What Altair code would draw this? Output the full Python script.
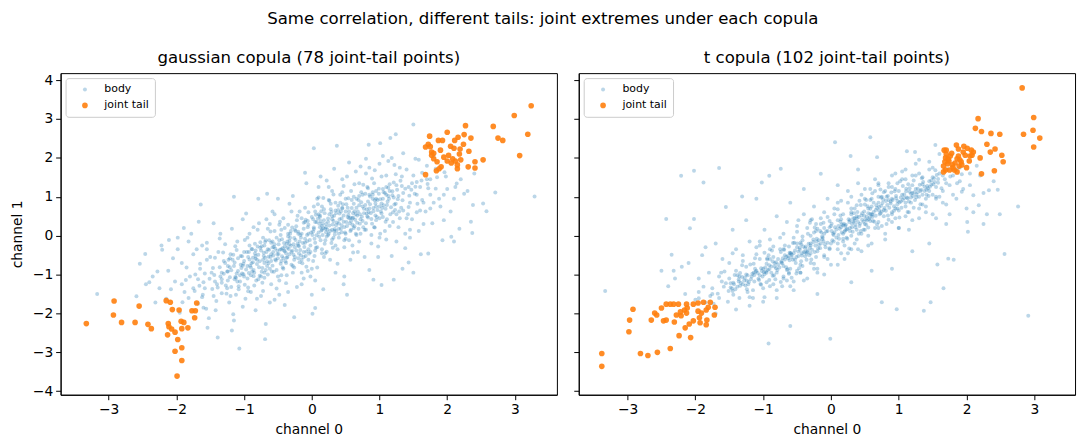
import altair as alt
import pandas as pd

# joint-tail points (channel 0, channel 1)
gauss_tail = [
    (-3.33, -2.26), (-2.92, -1.68), (-2.93, -2.04), (-2.81, -2.23), (-2.55, -1.81),
    (-2.61, -2.23), (-2.42, -2.28), (-2.37, -2.39), (-2.15, -1.67), (-2.09, -1.71),
    (-2.06, -1.90), (-1.96, -1.91), (-2.12, -2.26), (-2.11, -2.34), (-2.07, -2.40),
    (-2.02, -2.48), (-2.13, -2.55), (-1.93, -2.20), (-1.89, -2.23), (-1.92, -2.39),
    (-1.83, -2.37), (-1.98, -2.67), (-1.92, -2.88), (-2.02, -2.97), (-1.92, -3.21),
    (-1.99, -3.61), (-1.77, -1.93), (-1.72, -1.93), (-1.70, -1.73), (-1.73, -2.11),
    (3.24, 3.34), (2.99, 3.09), (3.19, 2.61), (3.07, 2.06), (2.68, 2.81),
    (2.75, 2.51), (2.82, 2.45), (2.27, 2.83), (2.00, 2.66), (1.74, 2.56),
    (1.87, 2.45), (1.93, 2.45), (2.11, 2.45), (2.16, 2.53), (2.35, 2.51),
    (1.72, 2.35), (1.68, 2.28), (1.75, 2.29), (2.24, 2.35), (2.10, 2.25),
    (2.19, 2.23), (2.32, 2.17), (1.77, 2.15), (1.80, 2.12), (1.77, 2.07),
    (2.02, 2.07), (2.18, 2.10), (2.53, 1.95), (2.41, 1.90), (1.85, 1.90),
    (2.00, 1.92), (2.06, 1.87), (2.12, 1.92), (2.15, 1.82), (2.31, 1.77),
    (2.41, 1.74), (1.91, 1.77), (1.88, 1.72), (1.84, 1.67), (2.15, 1.72),
    (1.68, 1.57), (1.95, 2.02), (2.05, 2.30), (1.80, 1.98), (2.20, 1.95),
    (2.25, 2.60), (1.90, 2.20), (2.08, 1.98),
]

t_tail = [
    (-3.38, -3.03), (-3.38, -3.36), (-2.98, -2.47), (-2.97, -2.17), (-2.92, -1.89),
    (-2.81, -3.03), (-2.70, -3.08), (-2.56, -3.00), (-2.37, -2.90), (-2.24, -2.57),
    (-2.07, -2.62), (-2.65, -2.17), (-2.60, -1.99), (-2.57, -2.04), (-2.50, -1.86),
    (-2.47, -2.19), (-2.43, -2.17), (-2.31, -2.22), (-2.43, -1.76), (-2.37, -1.76),
    (-2.32, -1.76), (-2.25, -1.76), (-2.13, -1.76), (-2.03, -1.76), (-1.96, -1.73),
    (-1.88, -1.71), (-1.78, -1.71), (-1.71, -1.84), (-1.72, -2.04), (-2.28, -2.04),
    (-2.22, -1.96), (-2.16, -1.91), (-2.12, -1.86), (-2.13, -1.99), (-2.21, -2.06),
    (-1.96, -1.94), (-1.91, -1.99), (-1.84, -1.91), (-1.81, -1.84), (-1.94, -2.11),
    (-2.03, -2.19), (-2.09, -2.27), (-2.15, -2.37), (-1.93, -2.24), (-1.83, -2.17),
    (-1.84, -2.29),
    (2.82, 3.80), (2.17, 3.01), (2.13, 2.76), (2.22, 2.68), (2.36, 2.63),
    (2.49, 2.61), (2.99, 3.04), (2.98, 2.71), (2.84, 2.61), (3.08, 2.51),
    (2.99, 2.28), (2.30, 2.35), (2.42, 2.23), (2.35, 2.15), (2.52, 2.07),
    (2.54, 1.90), (2.20, 2.00), (2.41, 1.67), (2.22, 1.59), (1.85, 2.33),
    (1.67, 2.20), (1.70, 2.20), (1.88, 2.23), (2.01, 2.25), (2.07, 2.20),
    (2.08, 2.07), (1.98, 2.07), (1.88, 2.05), (1.76, 2.05), (1.69, 2.00),
    (1.73, 1.97), (2.04, 1.92), (1.92, 1.90), (1.83, 1.87), (1.66, 1.79),
    (1.79, 1.82), (1.89, 1.79), (1.93, 1.82), (1.69, 1.69), (1.75, 1.69),
    (1.82, 1.69), (1.86, 1.64), (1.66, 1.64), (1.72, 1.85), (1.95, 2.15),
    (1.78, 2.12), (2.00, 1.75), (1.90, 1.95), (1.68, 1.90), (2.10, 2.15),
    (1.80, 1.75), (1.96, 2.30), (1.74, 1.92), (2.05, 2.05), (1.86, 1.98),
    (1.70, 2.10),
]

# body points: a hand-read sample of the cloud
gauss_body = [
    (1.50, 2.86), (1.24, 2.61), (1.16, 2.51), (1.01, 2.38), (0.84, 2.34), (0.37, 2.31),
    (0.03, 2.25), (3.29, 1.01), (2.71, 1.11), (2.58, 0.63), (2.53, 0.83), (2.38, 0.79),
    (2.37, 0.07), (2.35, 0.36), (2.10, -0.15), (2.06, -0.03), (1.72, -0.46), (1.61, -0.48),
    (1.50, -0.95), (1.43, -0.69), (1.34, -0.85), (1.21, -1.13), (1.03, -1.27), (0.91, -1.13),
    (0.52, -1.52), (0.47, -1.25), (0.05, -1.86), (0.01, -2.01), (-0.26, -2.10), (-0.69, -2.66),
    (-0.68, -2.27), (-1.07, -2.90), (-1.18, -2.44), (-1.39, -2.62), (-1.54, -2.37), (-3.17, -1.50),
    (-2.59, -1.56), (-2.54, -0.72), (-2.46, -0.47), (-2.40, -1.20), (-2.21, -0.36), (-2.11, -0.11),
    (-1.89, 0.20), (-1.64, 0.80), (-1.15, 1.00), (-0.79, 0.95), (-0.66, 1.08), (-1.67, 0.36),
    (-1.98, -0.05),
    (0.02, 0.11), (-0.15, 0.05), (0.21, 0.30), (-0.33, -0.22), (0.40, 0.18), (-0.08, -0.41),
    (0.12, 0.52), (0.30, -0.10), (-0.45, 0.15), (0.55, 0.62), (-0.60, -0.48), (0.05, -0.18),
    (-0.22, 0.40), (0.35, 0.85), (-0.38, -0.70), (0.62, 0.20), (-0.10, 0.72), (0.18, -0.55),
    (-0.52, -0.05), (0.48, -0.30), (0.08, 0.95), (-0.28, -0.95), (0.66, 0.95), (-0.68, -0.88),
    (0.25, 0.05), (-0.05, 0.28), (0.15, -0.35), (-0.40, -0.40), (0.44, 0.44), (-0.18, -0.15),
    (0.02, -0.65), (0.58, 1.15), (-0.62, 0.30), (0.70, -0.15), (-0.30, 0.62), (0.10, 1.25),
    (-0.12, -1.10), (0.38, -0.72), (-0.55, 0.55), (0.28, 0.68), (-0.20, -0.58), (0.50, 0.05),
    (-0.48, -1.15), (0.00, 0.48), (0.22, -0.02), (-0.35, 0.05), (0.32, 0.38), (-0.70, -0.25),
    (0.65, 0.55), (-0.08, -0.80),
    (0.85, 0.70), (1.05, 0.95), (0.92, 1.35), (1.20, 0.60), (1.35, 1.10), (0.78, 0.15),
    (1.10, 1.55), (1.45, 0.85), (0.95, 0.40), (1.25, 1.30), (0.80, 1.60), (1.40, 1.70),
    (1.15, 0.25), (0.88, -0.20), (1.30, 0.45), (1.00, 1.85), (1.48, 1.35), (0.75, 1.05),
    (1.18, 2.00), (1.38, 0.05), (0.98, -0.55), (1.22, 0.80), (0.82, 0.50), (1.05, 1.20),
    (1.42, 0.55),
    (-0.87, -0.68), (-1.03, -0.97), (-0.94, -1.33), (-1.21, -0.58), (-1.33, -1.12), (-0.76, -0.17),
    (-1.12, -1.52), (-1.46, -0.83), (-0.93, -0.42), (-1.27, -1.28), (-0.81, -1.62), (-1.41, -1.68),
    (-1.13, -0.27), (-0.86, 0.22), (-1.31, -0.43), (-1.02, -1.83), (-1.47, -1.37), (-0.77, -1.03),
    (-1.16, -2.02), (-1.36, -0.07), (-0.97, 0.57), (-1.24, -0.78), (-0.83, -0.52), (-1.06, -1.18),
    (-1.43, -0.57),
    (1.60, 1.25), (1.75, 1.05), (1.85, 1.50), (1.55, 0.60), (2.00, 1.20), (1.70, 1.80),
    (1.90, 0.75), (2.20, 1.45), (1.65, 0.30), (2.10, 0.95), (1.80, 2.05), (2.30, 1.15),
    (1.58, 1.95), (2.40, 1.60), (1.95, 0.40),
    (-1.60, -1.20), (-1.72, -1.00), (-1.88, -1.45), (-1.55, -0.62), (-2.02, -1.18), (-1.68, -1.75),
    (-1.92, -0.70), (-2.25, -1.35), (-1.62, -0.25), (-2.12, -0.90), (-1.82, -1.60), (-2.35, -1.05),
    (-1.56, -1.88), (-2.45, -1.25), (-1.98, -0.35),
    (0.12, 0.22), (-0.25, -0.30), (0.33, 0.12), (-0.12, 0.18), (0.45, 0.70), (-0.42, -0.58),
    (0.18, 0.40), (-0.32, -0.05), (0.58, 0.38), (-0.58, -0.30), (0.08, -0.30), (-0.05, 0.60),
    (0.26, 0.90), (-0.26, -0.82), (0.70, 0.78), (-0.72, -0.62), (0.40, -0.05), (-0.15, -0.62),
    (0.52, 0.25), (-0.48, 0.28), (0.05, 0.35), (-0.20, 0.10), (0.15, 0.75), (-0.38, -0.45),
    (0.62, 1.00), (-0.65, -1.00), (0.30, 0.50), (-0.02, -0.25), (0.20, 0.18), (-0.10, -0.08),
    (0.85, 1.05), (-0.88, -0.92), (1.02, 0.62), (-1.00, -0.65), (0.72, 0.42), (-0.75, -0.38),
    (1.12, 0.88), (-1.15, -0.78), (0.95, 0.75), (-0.95, -1.10), (1.28, 1.02), (-1.30, -0.98),
    (0.68, 0.62), (-0.70, -0.70), (1.08, 1.10), (-1.08, -1.30), (0.90, 0.95), (-0.90, -0.82),
    (1.32, 0.72), (-1.28, -0.70),
    (0.07, 0.35), (-0.31, 0.12), (0.44, 0.09), (-0.17, -0.37), (0.61, 0.47), (-0.54, -0.61),
    (0.29, 0.61), (0.13, -0.12), (-0.41, -0.19), (0.77, 0.58), (-0.63, -0.12), (0.36, 0.27),
    (-0.09, 0.41), (0.51, 0.81), (-0.27, -0.49), (0.19, -0.21), (-0.71, -0.44), (0.94, 0.52),
    (-0.46, 0.02), (0.03, 0.17), (0.24, 0.44), (-0.19, -0.27), (0.67, 0.33), (-0.36, -0.31),
    (0.14, 0.63), (-0.58, -0.77), (0.83, 0.88), (-0.04, -0.46), (0.41, 0.57), (-0.23, 0.24),
    (0.57, 0.12), (-0.83, -0.59), (0.09, 0.81), (-0.14, -0.71), (0.73, 1.12), (-0.51, -0.39),
    (0.31, -0.31), (-0.66, -0.66), (1.06, 0.78), (-0.97, -0.87), (0.47, 0.36), (-0.33, -0.13),
    (0.21, 0.09), (-0.07, 0.02), (0.88, 0.43), (-0.78, -0.81), (0.16, 0.31), (-0.44, -0.53),
    (0.59, 0.71), (-0.12, 0.33), (1.17, 0.73), (-1.09, -0.91), (0.99, 1.08), (-0.86, -1.04),
    (1.27, 0.94), (-1.21, -1.07), (0.79, 0.79), (-0.92, -0.61), (1.13, 1.23), (-1.02, -0.77),
    (1.34, 0.91), (-1.24, -1.15), (0.91, 0.63), (-0.74, -0.93), (1.21, 1.37), (-1.17, -0.62),
    (0.69, 0.92), (-0.81, -0.73), (1.38, 1.21), (-1.33, -1.21), (0.34, 0.17), (-0.29, -0.39),
    (0.53, 0.48), (-0.49, -0.47), (0.11, -0.03), (-0.01, 0.08), (0.26, 0.26), (-0.24, -0.11),
    (0.43, 0.62), (-0.37, -0.57), (0.63, 0.63), (-0.57, -0.42), (0.06, 0.54), (-0.16, -0.51),
    (0.71, 0.31), (-0.64, -0.54), (0.39, 0.77), (-0.43, -0.82), (0.86, 0.81), (-0.89, -0.71),
    (1.03, 0.83), (-1.01, -0.99), (1.19, 1.04), (-1.14, -1.12), (0.97, 0.92), (-0.79, -0.49),
    (1.09, 0.69), (-1.19, -0.89), (0.81, 0.68), (-0.69, -0.57), (1.52, 1.08), (-1.51, -1.11),
    (1.63, 0.92), (-1.58, -0.97), (1.47, 1.18), (-1.66, -1.29), (1.71, 1.33), (-1.44, -1.01),
    (1.56, 0.82), (-1.73, -1.42), (0.22, -0.41), (-0.21, 0.51), (0.48, -0.12), (-0.47, 0.36),
    (0.66, 0.02), (-0.61, 0.11), (0.04, -0.52), (0.17, 0.97), (-0.06, -0.91), (0.54, 0.96),
    (-0.56, -0.93), (0.93, 0.21), (-0.84, -0.21), (1.11, 0.42), (-1.11, -0.37), (0.76, 1.31),
    (-0.73, -1.21), (1.24, 1.58), (-1.26, -1.49), (0.89, 1.47), (-0.94, -1.43), (1.44, 1.03),
    (-1.36, -0.81), (1.31, 1.41), (-1.39, -1.33), (0.61, -0.43), (-0.67, 0.42), (0.32, 1.06),
    (-0.37, -1.02), (1.01, 0.05), (-0.99, -0.11), (0.47, 1.28), (-0.52, -1.36), (1.62, 1.42),
    (-1.61, -1.52), (1.83, 1.21), (-1.86, -1.14), (1.96, 1.63), (-1.91, -1.71), (2.14, 1.34),
    (-2.28, -0.92), (-2.15, -1.62), (-2.05, -0.58), (-1.95, -1.98), (-1.85, -0.82), (-2.22, -0.25),
    (-1.92, -1.25), (-1.82, -0.15), (-2.31, -1.72), (-2.08, -1.38), (-1.75, -0.48), (-1.68, -1.12),
    (-1.62, -1.58), (-1.55, -0.18), (-1.48, -0.95), (-1.42, -1.92), (-1.38, -0.42), (-1.33, -1.48),
    (-1.78, 0.05), (-1.52, -2.12), (-1.45, 0.32), (-1.65, -0.72), (-1.35, -1.05), (-1.58, -1.35),
    (-1.28, -0.22), (-1.22, -1.72), (-1.18, 0.18), (-1.12, -1.08), (-1.05, -0.52), (-0.98, -1.62),
    (-0.92, 0.05), (-0.85, -1.28), (-1.25, -0.92), (-1.15, -2.18), (-1.02, 0.42), (-0.88, -0.35),
    (-0.83, -1.92), (-1.08, -1.38), (-0.95, -0.78), (-1.20, -0.48), (-0.78, 0.32), (-0.72, -1.42),
    (-0.68, -0.12), (-0.62, -1.72), (-0.58, 0.62), (-0.52, -0.88), (-0.48, -1.52), (-0.42, 0.45),
    (-0.38, -1.22), (-0.33, 0.82), (-0.75, -1.05), (-0.65, 0.18), (-0.55, -0.22), (-0.45, -0.65),
    (-0.35, -0.02), (-0.60, -1.25), (-0.40, -1.78), (-0.50, 0.95), (-0.28, 1.02), (-0.22, -1.32),
    (-0.18, 0.62), (-0.12, -0.55), (-0.08, 1.35), (-0.02, -1.05), (0.03, 0.75), (0.08, -0.82),
    (0.13, 1.52), (0.17, -1.38), (-0.25, 0.15), (-0.15, -0.95), (-0.05, 0.05), (0.05, -0.38),
    (0.15, 0.25), (-0.10, 1.62), (0.00, -1.52), (0.10, 0.98), (0.22, 1.42), (0.27, -0.62),
    (0.33, 1.72), (0.38, -0.35), (0.42, 1.05), (0.48, -1.05), (0.52, 1.52), (0.57, -0.62),
    (0.63, 1.32), (0.68, -0.42), (0.25, 0.92), (0.35, -0.95), (0.45, 0.72), (0.55, 1.88),
    (0.65, 0.05), (0.30, 0.15), (0.50, -0.08), (0.60, 0.45), (0.72, 1.78), (0.78, -0.55),
    (0.83, 1.22), (0.88, 0.02), (0.93, 1.68), (0.98, -0.28), (1.03, 1.52), (1.08, 0.12),
    (1.13, 1.92), (1.18, -0.52), (0.75, 0.38), (0.85, -0.88), (0.95, 1.15), (1.05, 0.48),
    (1.15, 1.32), (0.80, 1.98), (1.00, 0.75), (1.10, -0.10), (1.22, 1.82), (1.28, 0.22),
    (1.33, 1.52), (1.38, -0.32), (1.43, 1.25), (1.48, 0.42), (1.53, 1.98), (1.58, 0.12),
    (1.63, 1.62), (1.68, 0.62), (1.25, 0.55), (1.35, 2.12), (1.45, -0.05), (1.55, 1.38),
    (1.65, 0.85), (1.72, 1.22), (1.78, 0.32), (1.83, 1.72), (1.88, 0.95), (1.93, -0.12),
    (1.98, 1.52), (2.05, 0.62), (2.12, 1.25), (2.18, 0.18), (2.25, 1.08), (1.75, 0.70),
    (1.95, 1.05),
    (0.05, 0.62), (-0.05, -0.62), (0.15, -0.45), (-0.15, 0.45), (0.28, 0.82), (-0.28, -0.78),
    (0.35, -0.25), (-0.35, 0.28), (0.45, 1.12), (-0.45, -1.02), (0.55, -0.12), (-0.55, 0.12),
    (0.62, 0.82), (-0.62, -0.85), (0.72, 0.05), (-0.72, -0.05), (0.82, 1.25), (-0.82, -1.15),
    (0.92, 0.22), (-0.92, -0.25), (0.10, 0.08), (0.20, -0.12), (0.30, 0.42), (0.40, 0.32),
    (0.50, 0.62), (-0.10, -0.18), (-0.20, 0.05), (-0.30, -0.42), (-0.40, -0.28), (-0.50, -0.58),
    (0.12, 0.48), (0.24, 0.02), (0.36, 0.58), (0.48, 0.22), (-0.12, -0.42), (-0.24, 0.12),
    (-0.36, -0.55), (-0.48, -0.12), (0.60, 0.28), (-0.60, -0.18), (0.70, 1.02), (-0.70, -1.08),
    (0.80, 0.32), (-0.80, -0.28), (0.90, 1.12), (-0.90, -1.02), (1.00, 0.45), (-1.00, -0.42),
    (1.10, 1.05), (-1.10, -1.18), (0.02, 0.42), (-0.02, -0.42), (0.18, 0.68), (-0.18, -0.68),
    (0.32, -0.05), (-0.32, 0.05), (0.42, 0.85), (-0.42, -0.85), (0.58, 0.15), (-0.58, -0.15),
    (-1.80, -1.05), (-1.70, -0.35), (-1.60, -1.85), (-1.50, -0.55), (-1.40, -1.25), (-1.30, -0.65),
    (-1.20, -1.55), (-1.10, -0.15), (-1.00, -1.05), (-0.90, -1.45), (-0.80, 0.15), (-0.70, -0.95),
    (-0.60, -0.65), (-0.50, -1.05), (-0.40, 0.20), (-0.30, -0.75), (-0.20, -0.25), (-0.10, 0.35),
    (0.00, -0.85), (0.10, 0.55), (0.20, -0.45), (0.30, 1.15), (0.40, 0.05), (0.50, 0.95),
    (0.60, -0.25), (0.70, 1.35), (0.80, 0.15), (0.90, 1.05), (1.00, -0.05), (1.10, 1.25),
    (1.20, 0.35), (1.30, 1.75), (1.40, 0.45), (1.50, 1.55), (1.60, 0.65), (1.70, 1.45),
    (1.80, 0.85), (-1.75, -1.35), (-1.65, -0.85), (-1.45, -1.55), (-1.25, -1.35), (-1.05, -0.75),
    (-0.85, -0.95), (-0.65, -0.35), (-0.45, -0.35), (-0.25, -0.55), (-0.05, -0.35), (0.15, 0.15),
    (0.35, 0.65), (0.55, 0.45), (0.75, 0.75), (0.95, 0.95), (1.15, 1.15), (1.35, 0.65),
    (1.55, 1.05), (1.75, 1.45), (-0.95, -0.05), (-0.75, -1.55), (-0.55, -1.65), (-0.35, -1.45),
    (-0.15, -1.25), (0.05, -1.15), (0.25, 1.25), (0.45, 1.45), (0.65, 1.65), (0.85, 1.75),
    (1.05, 2.05), (1.25, -0.15), (1.45, 0.15), (-1.35, 0.05), (-1.55, -0.35),
]

# the dense middle of the gaussian cloud
gauss_core = [
    (0.04, -0.08), (0.14, 0.13), (-0.06, 0.22), (0.24, 0.36), (-0.26, -0.06), (0.34, 0.03),
    (-0.34, -0.34), (0.44, 0.27), (-0.44, -0.09), (0.54, 0.53), (-0.54, -0.33), (0.64, 0.41),
    (-0.64, -0.71), (0.74, 0.49), (-0.74, -0.27), (0.84, 0.61), (-0.84, -0.46), (0.94, 0.83),
    (-0.94, -0.55), (1.04, 0.71), (-1.04, -0.83), (1.14, 0.95), (-1.14, -0.69), (1.24, 0.82),
    (-1.24, -0.92), (0.09, 0.44), (-0.09, -0.52), (0.19, 0.58), (-0.19, -0.46), (0.29, -0.19),
    (-0.29, 0.21), (0.39, 0.66), (-0.39, -0.66), (0.49, 0.08), (-0.49, -0.22), (0.59, 0.92),
    (-0.59, -0.92), (0.69, 0.18), (-0.69, -0.16), (0.79, 1.08), (-0.79, -1.12), (0.89, 0.31),
    (-0.89, -0.34), (0.99, 1.21), (-0.99, -1.26), (1.09, 0.36), (-1.09, -0.58), (1.19, 1.14),
    (-1.19, -1.32), (1.29, 0.62), (0.01, 0.02), (0.11, 0.31), (-0.11, -0.29), (0.21, 0.22),
    (-0.21, -0.21), (0.31, 0.29), (-0.31, -0.26), (0.41, 0.42), (-0.41, -0.38), (0.51, 0.35),
    (-0.51, -0.48), (0.61, 0.58), (-0.61, -0.55), (0.71, 0.55), (-0.71, -0.52), (0.81, 0.57),
    (-0.81, -0.62), (0.91, 0.71), (-0.91, -0.77), (1.01, 0.94), (-1.01, -0.72), (1.11, 0.79),
    (-1.11, -0.97), (1.21, 0.98), (-1.21, -0.81), (0.06, -0.31), (-0.06, 0.38), (0.16, 0.02),
    (-0.16, -0.05), (0.26, 0.55), (-0.26, -0.62), (0.36, 0.12), (-0.36, -0.15), (0.46, 0.81),
    (-0.46, -0.72), (0.56, 0.32), (-0.56, -0.29), (0.66, 0.72), (-0.66, -0.78), (0.76, 0.22),
    (-0.76, -0.31), (0.86, 1.01), (-0.86, -0.88), (0.96, 0.48), (-0.96, -0.42), (1.06, 1.12),
    (-1.06, -1.02), (1.16, 0.55), (-1.16, -0.49), (1.26, 1.18), (0.03, 0.21), (0.13, 0.38),
    (-0.13, -0.19), (0.23, 0.15), (-0.23, -0.38), (0.33, 0.51), (-0.33, -0.48), (0.43, 0.18),
    (-0.43, -0.32), (0.53, 0.72), (-0.53, -0.64), (0.63, 0.24), (-0.63, -0.36), (0.73, 0.86),
    (-0.73, -0.83), (0.83, 0.47), (-0.83, -0.38), (0.93, 0.91), (-0.93, -0.96), (1.03, 0.57),
    (-1.03, -0.53), (1.13, 1.02), (-1.13, -1.06), (1.23, 0.66), (-1.23, -0.62), (1.33, 1.28),
    (-1.33, -0.95), (1.43, 0.74), (-1.43, -1.18), (1.53, 1.26), (-0.03, -0.11), (0.07, 0.01),
    (-0.07, -0.14), (0.17, 0.19), (-0.17, 0.02), (0.27, 0.12), (-0.27, -0.22), (0.37, 0.34),
    (-0.37, -0.21), (0.47, 0.52), (-0.47, -0.36), (0.57, 0.46), (-0.57, -0.51), (0.67, 0.52),
    (-0.67, -0.42), (0.77, 0.69), (-0.77, -0.66), (0.87, 0.58), (-0.87, -0.57), (0.97, 0.66),
]

t_body = [
    (-3.33, -1.42), (-2.21, 1.54), (-2.02, 1.67), (-1.88, 1.37), (-1.65, 1.74), (-2.43, 0.43),
    (-2.02, 0.43), (-2.08, 0.19), (-2.35, -0.49), (-2.32, -0.90), (-0.92, -2.77), (-0.01, -2.65),
    (-0.60, -2.32), (2.91, -2.06), (2.56, -0.47), (2.76, 0.75), (2.49, 0.55), (2.25, 0.30),
    (2.46, 1.18), (1.66, -1.35), (1.47, -1.71), (1.37, -1.93), (0.97, -1.89), (0.75, -1.71),
    (0.58, 2.53), (0.06, 2.40), (0.29, 2.05), (0.68, 2.02), (-0.15, 1.59), (-0.74, 1.72),
    (-1.02, 1.37), (-0.91, 1.54), (-1.31, 1.01), (-1.55, 0.74), (1.57, -0.74), (1.73, -0.59),
    (1.81, -0.62), (2.02, 0.10), (2.01, 0.35), (2.18, 0.78), (1.93, 1.13), (2.10, 1.04),
    (2.33, 1.17), (1.54, 2.33), (1.12, 2.17), (1.24, 2.15),
    (0.05, 0.08), (-0.12, -0.05), (0.22, 0.28), (-0.30, -0.25), (0.40, 0.35), (-0.08, -0.30),
    (0.15, 0.42), (0.32, 0.10), (-0.42, -0.12), (0.55, 0.58), (-0.58, -0.55), (0.02, -0.12),
    (-0.20, 0.18), (0.35, 0.70), (-0.36, -0.62), (0.62, 0.38), (-0.05, 0.48), (0.20, -0.25),
    (-0.50, -0.30), (0.48, 0.15), (0.10, 0.68), (-0.25, -0.72), (0.70, 0.85), (-0.70, -0.78),
    (0.28, 0.20), (-0.02, 0.22), (0.12, -0.08), (-0.40, -0.42), (0.45, 0.52), (-0.15, -0.20),
    (0.75, 0.62), (-0.78, -0.60), (0.85, 0.92), (-0.88, -0.95), (0.95, 0.70), (-0.95, -0.72),
    (1.05, 1.05), (-1.05, -1.02), (0.80, 1.15), (-0.82, -1.12), (1.15, 0.88), (-1.12, -0.85),
    (1.25, 1.20), (-1.22, -1.25), (1.02, 1.40), (-1.00, -1.35), (1.35, 1.05), (-1.38, -1.02),
    (1.45, 1.40), (-1.45, -1.42), (0.60, 0.95), (-0.62, -0.98), (0.90, 0.55), (-0.92, -0.50),
    (1.20, 1.55), (-1.20, -1.58), (1.55, 1.25), (-1.55, -1.22), (1.65, 1.55), (-1.65, -1.60),
    (1.75, 1.30), (-1.75, -1.35), (1.85, 1.70), (-1.85, -1.72), (1.50, 1.75), (-1.52, -1.70),
    (1.60, 1.00), (-1.62, -0.95), (0.30, 0.55), (-0.32, -0.50), (0.50, 0.30), (-0.52, -0.70),
    (0.18, 0.05), (-0.10, 0.05), (0.38, -0.10), (-0.22, 0.30), (0.65, 0.20), (-0.68, -0.25),
    (0.42, 0.90), (-0.45, -0.95), (1.10, 0.50), (-1.10, -0.48), (0.70, 1.30), (-0.72, -1.30),
    (1.30, 0.70), (-1.30, -0.65), (0.25, -0.45), (-0.28, 0.42), (0.82, 0.30), (-0.85, -0.28),
    (1.40, 0.95), (-1.40, -0.90), (0.58, 1.20), (-0.55, -1.18), (1.90, 1.40), (-1.95, -1.45),
    (2.05, 1.60), (-2.00, -1.65), (1.70, 2.00), (-1.70, -2.00), (0.95, 1.60), (-0.98, -1.58),
    (1.00, 0.20), (-1.05, -0.15), (0.45, -0.40), (-0.48, 0.40), (1.80, 1.05), (-1.80, -0.95),
    (2.20, 1.55), (-2.15, -1.50),
    (-1.25, 0.40), (-1.10, 0.95), (-0.60, 0.85), (-0.40, 1.20), (-1.45, 0.15), (-1.70, -0.20),
    (-1.90, -0.50), (1.20, -0.40), (1.45, -0.20), (0.60, -0.90), (0.30, -1.20), (-0.20, -1.50),
    (0.90, -0.85), (1.70, 0.30), (2.00, 0.70), (-2.20, -0.80), (-0.80, 0.50), (0.10, 1.30),
    (0.40, 1.70), (-0.10, -1.00),
    (0.08, 0.16), (-0.18, -0.12), (0.27, 0.35), (-0.34, -0.38), (0.46, 0.41), (-0.05, -0.18),
    (0.19, 0.31), (0.36, 0.22), (-0.46, -0.31), (0.58, 0.69), (-0.61, -0.63), (0.04, 0.02),
    (-0.25, 0.08), (0.39, 0.61), (-0.38, -0.53), (0.66, 0.51), (-0.11, 0.33), (0.23, -0.05),
    (-0.55, -0.45), (0.52, 0.28), (0.14, 0.52), (-0.29, -0.61), (0.74, 0.77), (-0.73, -0.69),
    (0.31, 0.31), (-0.07, 0.11), (0.16, 0.08), (-0.43, -0.51), (0.49, 0.62), (-0.19, -0.33),
    (0.79, 0.71), (-0.81, -0.68), (0.88, 0.83), (-0.91, -0.86), (0.98, 0.81), (-0.97, -0.82),
    (1.08, 0.97), (-1.07, -1.11), (0.84, 1.02), (-0.86, -1.03), (1.18, 0.98), (-1.14, -0.95),
    (1.28, 1.12), (-1.24, -1.16), (1.06, 1.28), (-1.03, -1.26), (1.38, 1.15), (-1.36, -1.12),
    (1.48, 1.31), (-1.48, -1.33), (0.63, 0.85), (-0.65, -0.88), (0.93, 0.64), (-0.94, -0.61),
    (1.22, 1.42), (-1.23, -1.45), (1.58, 1.36), (-1.58, -1.31), (1.68, 1.45), (-1.67, -1.49),
    (0.33, 0.45), (-0.35, -0.42), (0.53, 0.39), (-0.53, -0.61), (0.21, 0.14), (-0.13, -0.02),
    (0.41, 0.05), (-0.24, 0.21), (0.68, 0.29), (-0.69, -0.36), (0.44, 0.79), (-0.47, -0.84),
    (1.13, 0.61), (-1.12, -0.58), (0.73, 1.19), (-0.74, -1.19), (1.32, 0.81), (-1.31, -0.76),
    (0.27, -0.33), (-0.31, 0.33), (0.85, 0.41), (-0.87, -0.38), (1.41, 1.05), (-1.42, -1.01),
    (0.61, 1.09), (-0.58, -1.08), (0.11, 0.25), (-0.09, -0.22), (0.57, 0.47), (-0.59, -0.45),
    (0.71, 0.65), (-0.72, -0.71), (0.96, 0.96), (-0.99, -0.94), (1.16, 1.13), (-1.17, -1.05),
    (0.81, 0.89), (-0.83, -0.79), (1.03, 0.88), (-1.02, -0.91), (0.35, 0.38), (-0.37, -0.28),
    (0.49, 0.51), (-0.48, -0.41), (0.24, 0.18), (-0.21, -0.15), (0.61, 0.54), (-0.63, -0.58),
    (0.77, 0.93), (-0.79, -0.88), (1.11, 1.21), (-1.13, -1.18), (1.26, 0.99), (-1.27, -1.08),
    (1.35, 1.32), (-1.34, -1.29), (1.52, 1.48), (-1.51, -1.42), (1.63, 1.22), (-1.61, -1.18),
    (0.01, 0.31), (-0.02, -0.35), (0.55, 0.21), (-0.56, -0.19), (0.89, 1.11), (-0.91, -1.14),
    (1.45, 1.15), (-1.44, -1.21), (1.76, 1.52), (-1.78, -1.55), (1.86, 1.35), (-1.88, -1.31),
    (1.72, 1.71), (-1.73, -1.75), (1.93, 1.58), (-1.95, -1.61), (0.42, 0.25), (-0.44, -0.22),
    (0.67, 0.78), (-0.66, -0.81), (1.22, 0.72), (-1.19, -0.74), (0.52, 0.92), (-0.51, -0.97),
    (0.18, -0.15), (-0.16, 0.12), (1.01, 0.47), (-0.98, -0.44), (1.55, 0.95), (-1.57, -0.92),
    (-2.30, -1.10), (-2.10, -0.70), (-1.95, -1.10), (-1.85, -0.30), (-1.75, -1.50), (-1.60, -0.60),
    (-1.50, -1.10), (-1.40, -0.35), (-1.35, -1.60), (-1.25, -0.80), (-1.20, -0.15), (-1.15, -1.40),
    (-1.05, -0.60), (-0.98, 0.15), (-0.95, -1.20), (-0.85, -0.55), (-0.80, -1.60), (-0.75, -0.05),
    (-0.70, -1.05), (-0.65, 0.35), (-0.60, -0.45), (-0.55, -1.40), (-0.50, 0.10), (-0.45, -0.75),
    (-0.40, 0.55), (-0.35, -1.10), (-0.30, -0.20), (-0.25, 0.75), (-0.20, -0.85), (-0.15, 0.30),
    (-0.10, -0.55), (-0.05, 0.95), (0.00, -0.20), (0.05, 0.55), (0.10, -0.75), (0.15, 0.90),
    (0.20, 0.10), (0.25, 1.15), (0.30, -0.35), (0.35, 0.45), (0.40, 1.35), (0.45, 0.05),
    (0.50, 0.95), (0.55, -0.25), (0.60, 0.55), (0.65, 1.45), (0.70, 0.20), (0.75, 1.00),
    (0.80, -0.10), (0.85, 1.35), (0.90, 0.35), (0.95, 1.20), (1.00, 0.65), (1.05, 1.65),
    (1.10, 0.85), (1.15, 0.15), (1.20, 1.10), (1.25, 1.85), (1.30, 0.45), (1.35, 1.50),
    (1.40, 0.75), (1.45, 1.90), (1.50, 1.05), (1.55, 0.45), (1.60, 1.60), (1.65, 0.85),
    (1.70, 1.35), (1.75, 0.55), (1.80, 1.55), (1.85, 0.95), (1.90, 1.75), (1.95, 1.20),
    (2.05, 1.30), (2.10, 0.60), (2.15, 1.80), (2.25, 1.10), (2.30, 0.55), (2.40, 1.40),
    (-2.40, -1.30), (-2.50, -0.90), (-1.65, -1.05), (-1.30, -1.25), (-1.00, -0.85), (-0.90, -0.35),
    (-0.60, -0.85), (-0.30, -0.45), (0.00, 0.25), (0.30, 0.70), (0.60, 0.75), (0.90, 0.95),
    (1.20, 1.30), (1.50, 1.50), (0.10, -0.35), (-0.05, 0.12), (0.15, 0.22), (0.28, 0.40),
    (0.38, 0.50), (-0.26, -0.10), (-0.38, -0.42), (0.55, 0.70), (0.72, 0.55), (0.82, 1.00),
    (-0.68, -0.50), (-0.80, -0.95), (1.00, 1.15), (1.12, 0.98), (-1.10, -0.90), (-1.25, -1.00),
    (1.32, 1.15), (1.42, 1.28), (-0.45, -0.18), (-0.20, -0.40),
    (-1.50, -0.70), (-1.40, -1.90), (-1.30, -0.50), (-1.20, -1.80), (-1.10, -0.30), (-1.00, -1.70),
    (-0.90, -0.10), (-0.80, -1.40), (-0.70, 0.05), (-0.60, -1.30), (-0.50, 0.25), (-0.40, -1.15),
    (-0.30, 0.40), (-0.20, -0.95), (-0.10, 0.60), (0.00, -0.75), (0.10, 0.85), (0.20, -0.60),
    (0.30, 1.00), (0.40, -0.35), (0.50, 1.20), (0.60, -0.20), (0.70, 1.35), (0.80, 0.05),
    (0.90, 1.55), (1.00, 0.20), (1.10, 1.70), (1.20, 0.40), (1.30, 1.95), (1.40, 0.60),
    (1.50, 0.55), (1.60, 2.10), (1.70, 0.80), (-1.45, -0.45), (-1.35, -1.05), (-1.15, -1.60),
    (-1.05, -0.25), (-0.95, -0.95), (-0.85, -1.25), (-0.75, -0.35), (-0.65, -1.15), (-0.55, -0.05),
    (-0.45, -0.95), (-0.35, 0.20), (-0.25, -0.85), (-0.15, 0.45), (-0.05, -0.60), (0.05, 0.70),
    (0.15, -0.45), (0.25, 0.85), (0.35, -0.20), (0.45, 1.05), (0.55, 0.00), (0.65, 1.15),
    (0.75, 0.25), (0.85, 1.25), (0.95, 0.45), (1.05, 1.45), (1.15, 0.60), (1.25, 1.55),
    (1.35, 0.80), (1.45, 1.70), (1.55, 1.00), (1.65, 1.15), (-0.90, -0.60), (-0.70, -0.35),
    (-0.50, -0.20), (-0.30, 0.00), (-0.10, 0.20), (0.10, 0.40), (0.30, 0.60), (0.50, 0.80),
    (0.70, 1.00), (0.90, 1.25), (1.10, 1.45), (1.30, 1.60), (-0.90, -1.30), (-0.70, -1.10),
    (-0.50, -0.90), (-0.30, -0.70), (-0.10, -0.50), (0.10, -0.20), (0.30, 0.00), (0.50, 0.15),
    (0.70, 0.35), (0.90, 0.60), (1.10, 0.75), (1.30, 1.00), (-0.62, -0.28), (-0.42, -0.02),
    (-0.22, 0.12), (-0.02, 0.38), (0.18, 0.55), (0.38, 0.78), (0.58, 0.92), (0.78, 1.12),
    (0.98, 1.35), (-0.62, -0.95), (-0.42, -0.78), (-0.22, -0.55), (-0.02, -0.32), (0.18, -0.08),
    (0.38, 0.15), (0.58, 0.38), (0.78, 0.50), (0.98, 0.70), (1.18, 0.85),
]

# the dense diagonal band of the t cloud
t_core = [
    (0.03, 0.05), (0.13, 0.18), (-0.13, -0.09), (0.23, 0.16), (-0.23, -0.25), (0.33, 0.36),
    (-0.33, -0.21), (0.43, 0.31), (-0.43, -0.45), (0.53, 0.49), (-0.53, -0.38), (0.63, 0.61),
    (-0.63, -0.52), (0.73, 0.58), (-0.73, -0.66), (0.83, 0.79), (-0.83, -0.71), (0.93, 0.76),
    (-0.93, -0.88), (1.03, 0.98), (-1.03, -0.84), (1.13, 0.96), (-1.13, -1.01), (1.23, 1.12),
    (-1.23, -1.02), (1.33, 1.18), (-1.33, -1.21), (1.43, 1.22), (-1.43, -1.25), (1.53, 1.38),
    (0.08, -0.05), (0.18, 0.27), (-0.18, -0.24), (0.28, 0.12), (-0.28, -0.36), (0.38, 0.44),
    (-0.38, -0.32), (0.48, 0.36), (-0.48, -0.52), (0.58, 0.56), (-0.58, -0.49), (0.68, 0.71),
    (-0.68, -0.61), (0.78, 0.66), (-0.78, -0.74), (0.88, 0.88), (-0.88, -0.79), (0.98, 0.89),
    (-0.98, -0.99), (1.08, 1.06), (-1.08, -0.96), (1.18, 1.08), (-1.18, -1.12), (1.28, 1.21),
    (-1.28, -1.15), (1.38, 1.26), (-1.38, -1.31), (1.48, 1.42), (-1.48, -1.22), (1.58, 1.46),
    (0.01, 0.12), (0.11, 0.02), (-0.11, -0.14), (0.21, 0.25), (-0.21, -0.08), (0.31, 0.22),
    (-0.31, -0.31), (0.41, 0.48), (-0.41, -0.28), (0.51, 0.42), (-0.51, -0.55), (0.61, 0.48),
    (-0.61, -0.44), (0.71, 0.74), (-0.71, -0.58), (0.81, 0.64), (-0.81, -0.84), (0.91, 0.92),
    (-0.91, -0.76), (1.01, 0.86), (-1.01, -1.05), (1.11, 1.14), (-1.11, -0.93), (1.21, 1.02),
    (-1.21, -1.19), (1.31, 1.31), (-1.31, -1.06), (1.41, 1.18), (-1.41, -1.38), (1.51, 1.32),
    (0.06, 0.22), (0.16, 0.29), (-0.16, -0.32), (0.26, 0.42), (-0.26, -0.16), (0.36, 0.28),
    (-0.36, -0.46), (0.46, 0.58), (-0.46, -0.36), (0.56, 0.42), (-0.56, -0.62), (0.66, 0.66),
    (-0.66, -0.54), (0.76, 0.84), (-0.76, -0.82), (0.86, 0.72), (-0.86, -0.66), (0.96, 1.02),
    (-0.96, -0.92), (1.06, 0.92), (-1.06, -1.14), (1.16, 1.22), (-1.16, -0.98), (1.26, 1.06),
    (-1.26, -1.28), (1.36, 1.38), (-1.36, -1.18), (1.46, 1.26), (-1.46, -1.36), (1.56, 1.56),
    (0.04, -0.15), (0.14, 0.36), (-0.14, 0.08), (0.24, -0.08), (-0.24, -0.42), (0.34, 0.58),
    (-0.34, 0.05), (0.44, 0.12), (-0.44, -0.66), (0.54, 0.76), (-0.54, -0.18), (0.64, 0.36),
    (-0.64, -0.86), (0.74, 0.98), (-0.74, -0.42), (0.84, 0.52), (-0.84, -1.02), (0.94, 1.14),
    (-0.94, -0.58), (1.04, 0.72), (-1.04, -1.24), (1.14, 1.32), (-1.14, -0.72), (1.24, 0.92),
    (-1.24, -1.38), (1.34, 1.48), (-1.34, -0.96), (1.44, 1.02), (-1.44, -1.52), (1.54, 1.68),
]

groups = ["body", "joint tail"]
colors = ["#1f77b4", "#ff7f0e"]
x_ticks = [-3, -2, -1, 0, 1, 2, 3]
y_ticks = [-4, -3, -2, -1, 0, 1, 2, 3, 4]

FONT = "DejaVu Sans"


def frame(body, tail):
    rows = [{"x": a, "y": b, "group": "body"} for a, b in body]
    rows += [{"x": a, "y": b, "group": "joint tail"} for a, b in tail]
    return pd.DataFrame(rows)


def panel(body, tail, title, xdom, show_y):
    df = frame(body, tail)
    legend = alt.Legend(
        title=None, orient="top-left", offset=5, padding=6,
        strokeColor="#cccccc", fillColor="white", cornerRadius=3,
        labelFontSize=11, labelFont=FONT, labelOffset=14, symbolOffset=8,
        rowPadding=4, symbolStrokeWidth=0,
    )
    if show_y:
        yaxis = alt.Axis(values=y_ticks, title="channel 1", grid=False, tickSize=5,
                         labelPadding=3, titlePadding=8)
    else:
        yaxis = alt.Axis(values=y_ticks, title=None, labels=False, grid=False, tickSize=5)
    return alt.Chart(df, title=alt.TitleParams(title, fontSize=16.7, font=FONT,
                                               fontWeight="normal", offset=7)).mark_circle(
        strokeWidth=0
    ).encode(
        x=alt.X("x:Q", scale=alt.Scale(domain=xdom, nice=False, zero=False),
                axis=alt.Axis(values=x_ticks, title="channel 0", grid=False, tickSize=5,
                              labelPadding=3, titlePadding=6)),
        y=alt.Y("y:Q", scale=alt.Scale(domain=[-4.09, 4.18], nice=False, zero=False), axis=yaxis),
        color=alt.Color("group:N", scale=alt.Scale(domain=groups, range=colors), legend=legend),
        opacity=alt.Opacity("group:N", scale=alt.Scale(domain=groups, range=[0.3, 0.9]), legend=legend),
        size=alt.Size("group:N", scale=alt.Scale(domain=groups, range=[16, 32]), legend=legend),
        order=alt.Order("group:N"),
    ).properties(width=500, height=324)


left = panel(gauss_body + gauss_core, gauss_tail,
             "gaussian copula (78 joint-tail points)", [-3.71, 3.62], True)
right = panel(t_body + t_core, t_tail,
              "t copula (102 joint-tail points)", [-3.72, 3.60], False)

chart = alt.hconcat(left, right, spacing=15).resolve_scale(
    x="independent", y="independent", color="independent",
    opacity="independent", size="independent",
).resolve_legend(
    color="independent", opacity="independent", size="independent"
).properties(
    title=alt.TitleParams("Same correlation, different tails: joint extremes under each copula",
                          fontSize=16.7, font=FONT, fontWeight="normal", anchor="middle", offset=22),
    padding={"left": 2, "top": 1, "right": 5, "bottom": 5},
).configure_axis(
    labelFont=FONT, titleFont=FONT, labelFontSize=13.9, titleFontSize=13.9,
    titleFontWeight="normal", labelColor="black", titleColor="black",
    domainColor="black", tickColor="black",
).configure_view(
    stroke="black", strokeWidth=1
)

chart.save("out.html", embed_options={"renderer": "svg", "actions": False})
